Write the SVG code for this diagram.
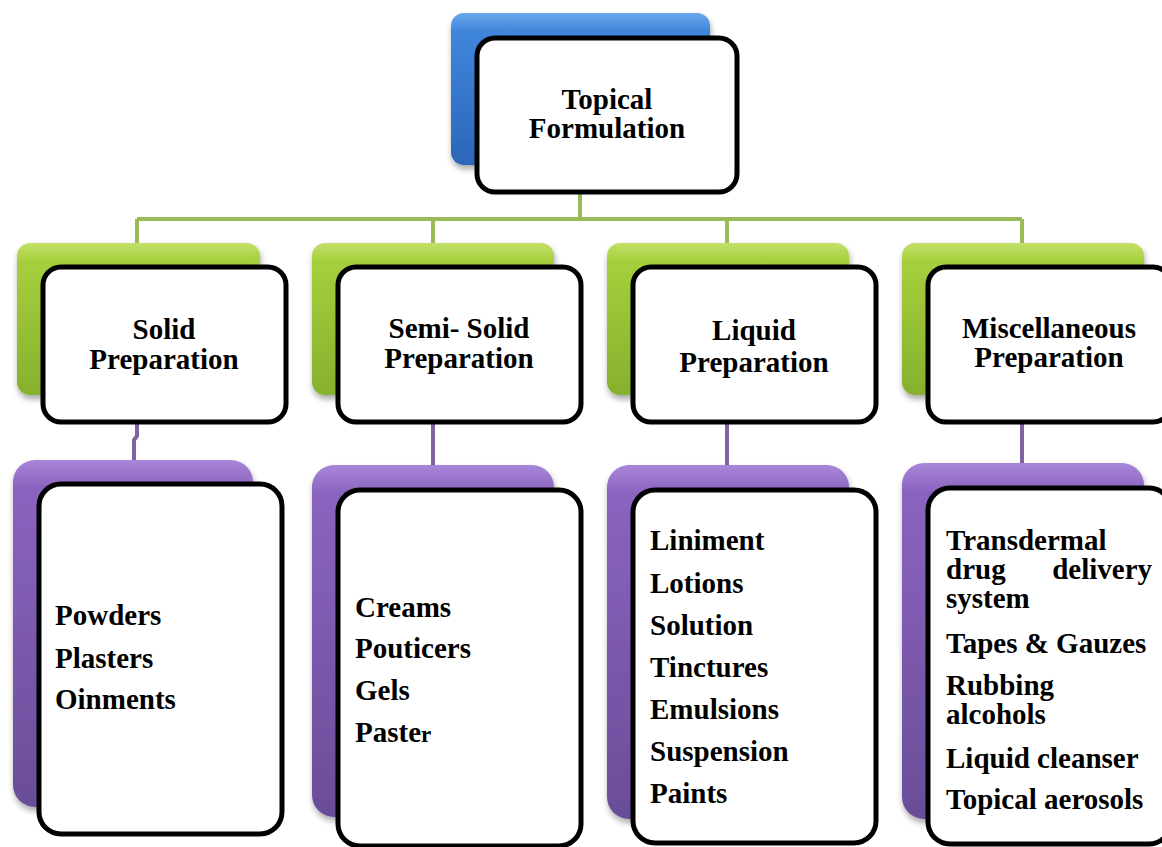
<svg xmlns="http://www.w3.org/2000/svg" width="1162" height="847" viewBox="0 0 1162 847">
<style>
.card{fill:#ffffff;stroke:#000000;stroke-width:5}
.t{font-family:"Liberation Serif","Times New Roman",serif;font-weight:bold;font-size:29px;fill:#000000}
.c{text-anchor:middle}
.g{fill:none;stroke:#9bbb59;stroke-width:4}
.p{fill:none;stroke:#8064a2;stroke-width:4}
</style>
<defs>
<linearGradient id="gBlue" x1="0" y1="0" x2="0" y2="1">
<stop offset="0" stop-color="#6aa6ea"/><stop offset="0.12" stop-color="#3f86dc"/><stop offset="1" stop-color="#2c66b8"/>
</linearGradient>
<linearGradient id="gGreen" x1="0" y1="0" x2="0" y2="1">
<stop offset="0" stop-color="#c3e06a"/><stop offset="0.12" stop-color="#a6cf3c"/><stop offset="1" stop-color="#86b02e"/>
</linearGradient>
<linearGradient id="gPurple" x1="0" y1="0" x2="0" y2="1">
<stop offset="0" stop-color="#a886d8"/><stop offset="0.08" stop-color="#8a64c0"/><stop offset="1" stop-color="#6a4d98"/>
</linearGradient>
<filter id="sh" x="-10%" y="-10%" width="130%" height="130%">
<feGaussianBlur in="SourceAlpha" stdDeviation="3"/>
<feOffset dx="1" dy="4" result="b"/>
<feComponentTransfer><feFuncA type="linear" slope="0.35"/></feComponentTransfer>
<feMerge><feMergeNode/><feMergeNode in="SourceGraphic"/></feMerge>
</filter>
</defs>
<rect width="1162" height="847" fill="#ffffff"/>

<g id="connectors">
<path class="g" d="M580 192 V219 M137 219 H1022 M137 219 V244 M433 219 V244 M727 219 V244 M1022 219 V244"/>
<path class="p" d="M137 423 V436 L134 440 V461"/>
<path class="p" d="M433 423 V466"/>
<path class="p" d="M727 423 V466"/>
<path class="p" d="M1022 423 V464"/>
</g>

<g id="node-topical">
<rect x="451" y="13" width="259" height="152" rx="13" fill="url(#gBlue)" filter="url(#sh)"/>
<rect class="card" x="477" y="38" width="260" height="154" rx="18"/>
<text class="t c" x="607" y="109">Topical</text>
<text class="t c" x="607" y="138">Formulation</text>
</g>

<g id="node-solid">
<rect x="17" y="243" width="243" height="152" rx="13" fill="url(#gGreen)" filter="url(#sh)"/>
<rect class="card" x="43" y="267" width="243" height="155" rx="18"/>
<text class="t c" x="164" y="339">Solid</text>
<text class="t c" x="164" y="369">Preparation</text>
</g>

<g id="node-semisolid">
<rect x="312" y="243" width="242" height="152" rx="13" fill="url(#gGreen)" filter="url(#sh)"/>
<rect class="card" x="338" y="267" width="243" height="155" rx="18"/>
<text class="t c" x="459" y="338">Semi- Solid</text>
<text class="t c" x="459" y="368">Preparation</text>
</g>

<g id="node-liquid">
<rect x="607" y="243" width="242" height="152" rx="13" fill="url(#gGreen)" filter="url(#sh)"/>
<rect class="card" x="633" y="267" width="243" height="155" rx="18"/>
<text class="t c" x="754" y="340">Liquid</text>
<text class="t c" x="754" y="372">Preparation</text>
</g>

<g id="node-misc">
<rect x="902" y="243" width="242" height="152" rx="13" fill="url(#gGreen)" filter="url(#sh)"/>
<rect class="card" x="928" y="267" width="243" height="155" rx="18"/>
<text class="t c" x="1049" y="338">Miscellaneous</text>
<text class="t c" x="1049" y="367">Preparation</text>
</g>

<g id="node-solid-list">
<rect x="13" y="460" width="240" height="347" rx="22" fill="url(#gPurple)" filter="url(#sh)"/>
<rect class="card" x="39" y="484" width="243" height="350" rx="22"/>
<text class="t" x="55" y="625">Powders</text>
<text class="t" x="55" y="668">Plasters</text>
<text class="t" x="55" y="709">Oinments</text>
</g>

<g id="node-semisolid-list">
<rect x="312" y="465" width="242" height="352" rx="22" fill="url(#gPurple)" filter="url(#sh)"/>
<rect class="card" x="338" y="490" width="243" height="356" rx="22"/>
<text class="t" x="355" y="617">Creams</text>
<text class="t" x="355" y="658">Pouticers</text>
<text class="t" x="355" y="700">Gels</text>
<text class="t" x="355" y="742">Paste<tspan font-size="23">r</tspan></text>
</g>

<g id="node-liquid-list">
<rect x="607" y="465" width="242" height="354" rx="22" fill="url(#gPurple)" filter="url(#sh)"/>
<rect class="card" x="633" y="490" width="243" height="353" rx="22"/>
<text class="t" x="650" y="550">Liniment</text>
<text class="t" x="650" y="593">Lotions</text>
<text class="t" x="650" y="635">Solution</text>
<text class="t" x="650" y="677">Tinctures</text>
<text class="t" x="650" y="719">Emulsions</text>
<text class="t" x="650" y="761">Suspension</text>
<text class="t" x="650" y="803">Paints</text>
</g>

<g id="node-misc-list">
<rect x="902" y="463" width="242" height="356" rx="22" fill="url(#gPurple)" filter="url(#sh)"/>
<rect class="card" x="928" y="488" width="243" height="356" rx="22"/>
<text class="t" x="946" y="550">Transdermal</text>
<text class="t" x="946" y="579">drug</text>
<text class="t" x="1152" y="579" text-anchor="end">delivery</text>
<text class="t" x="946" y="608">system</text>
<text class="t" x="946" y="653">Tapes &amp; Gauzes</text>
<text class="t" x="946" y="695">Rubbing</text>
<text class="t" x="946" y="724">alcohols</text>
<text class="t" x="946" y="768">Liquid cleanser</text>
<text class="t" x="946" y="809">Topical aerosols</text>
</g>
</svg>
